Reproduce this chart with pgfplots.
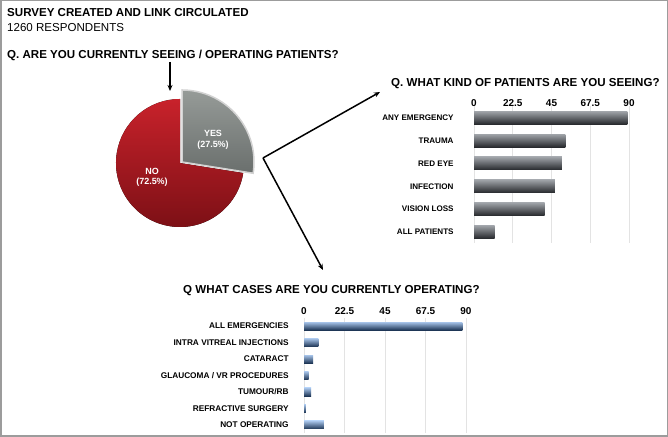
\documentclass[border=0pt]{standalone}
\usepackage{pgfplots}
\pgfplotsset{compat=1.18}
\usepackage{fontspec}
\setmainfont{Liberation Sans}
\usetikzlibrary{arrows.meta}

\definecolor{framegray}{HTML}{9C9C9C}
\definecolor{redtop}{HTML}{C8222B}
\definecolor{redbot}{HTML}{7A0F15}
\definecolor{graytop}{HTML}{969B98}
\definecolor{graybot}{HTML}{6A6F6D}
\definecolor{bartop}{HTML}{9FA3A8}
\definecolor{barmid}{HTML}{6A6E74}
\definecolor{barbot}{HTML}{26282C}
\definecolor{bluetop}{HTML}{A6C3E8}
\definecolor{bluemid}{HTML}{5E8ECA}
\definecolor{bluebot}{HTML}{1E3656}

% values
\def\yesval{27.5}
\def\noval{72.5}

\pgfplotsset{
  hbars/.style={
    scale only axis, xbar, bar shift=0pt, y dir=reverse,
    xmin=0, xmax=90,
    axis line style={draw=none}, tick style={draw=none},
    xtick={0,22.5,45,67.5,90},
    xticklabels={0,22.5,45,67.5,90},
    xticklabel pos=upper,
    xmajorgrids, major grid style={gray!22, line width=0.8bp},
    /pgf/number format/assume math mode=true,
    xticklabel style={font=\fontsize{10}{11}\selectfont\bfseries, inner sep=0pt},
    yticklabel style={font=\fontsize{8.1}{9}\selectfont\bfseries, anchor=east, inner sep=0pt},
    clip=false,
  },
  graybar/.style={draw=none, top color=bartop, middle color=barmid, bottom color=barbot},
  bluebar/.style={draw=none, top color=bluetop, middle color=bluemid, bottom color=bluebot},
}

\begin{document}
\begin{tikzpicture}[x=1bp,y=1bp]
\useasboundingbox (0,0) rectangle (668,437);
\fill[white] (0,0) rectangle (668,437);
\draw[framegray, line width=1.5bp] (0.75,0.75) rectangle (667.25,436.25);

% headings
\node[anchor=base west, inner sep=0pt, font=\fontsize{11.6}{13}\selectfont\bfseries] at (7,420.3) {SURVEY CREATED AND LINK CIRCULATED};
\node[anchor=base west, inner sep=0pt, font=\fontsize{11.6}{13}\selectfont] at (7,405.3) {1260 RESPONDENTS};
\node[anchor=base west, inner sep=0pt, font=\fontsize{11.6}{13}\selectfont\bfseries] at (7,378.7) {Q. ARE YOU CURRENTLY SEEING / OPERATING PATIENTS?};
\node[anchor=base west, inner sep=0pt, font=\fontsize{11.6}{13}\selectfont\bfseries] at (391,350.3) {Q. WHAT KIND OF PATIENTS ARE YOU SEEING?};
\node[anchor=base west, inner sep=0pt, font=\fontsize{11.6}{13}\selectfont\bfseries] at (183,143.7) {Q WHAT CASES ARE YOU CURRENTLY OPERATING?};

% arrows
\draw[line width=1.5bp, -{Stealth[length=6bp,width=5bp]}] (170,375) -- (170,346);
\draw[line width=1.5bp, -{Stealth[length=6bp,width=5bp]}] (263,279) -- (380,345);
\draw[line width=1.5bp, -{Stealth[length=6bp,width=5bp]}] (263,279) -- (323,167);

% pie
\begin{axis}[at={(180bp,274bp)}, anchor=center, scale only axis,
  width=180bp, height=180bp, xmin=-90, xmax=90, ymin=-90, ymax=90,
  hide axis, clip=false]
  \pgfmathsetmacro\yesend{90-3.6*\yesval}
  \fill[top color=redtop, bottom color=redbot]
    (axis cs:0,0) -- ++(\yesend:64bp) arc[start angle=\yesend, end angle=-270, radius=64bp] -- cycle;
  \fill[top color=graytop, bottom color=graybot, draw=gray!35, line width=1.5bp]
    (axis cs:2,1) -- ++(90:72bp) arc[start angle=90, end angle=\yesend, radius=72bp] -- cycle;
  \node[white, font=\fontsize{9}{10}\selectfont\bfseries] at (axis cs:33,30) {YES};
  \node[white, font=\fontsize{9}{10}\selectfont\bfseries] at (axis cs:33,18) {(\yesval\%)};
  \node[white, font=\fontsize{9}{10}\selectfont\bfseries] at (axis cs:-28,-8) {NO};
  \node[white, font=\fontsize{9}{10}\selectfont\bfseries] at (axis cs:-28,-19) {(\noval\%)};
\end{axis}

% what kind of patients
\begin{axis}[hbars, at={(474bp,193.6bp)}, anchor=south west,
  width=155bp, height=137bp, ymin=-0.5, ymax=5.5, bar width=13bp,
  ytick={0,...,5},
  yticklabels={ANY EMERGENCY,TRAUMA,RED EYE,INFECTION,VISION LOSS,ALL PATIENTS},
  yticklabel style={xshift=-16bp}]
  \addplot[graybar] coordinates {(89,0)};
  \addplot[graybar] coordinates {(53,1)};
  \addplot[graybar] coordinates {(51,2)};
  \addplot[graybar] coordinates {(47,3)};
  \addplot[graybar] coordinates {(41,4)};
  \addplot[graybar] coordinates {(12,5)};
\end{axis}

% what cases operating
\begin{axis}[hbars, at={(304bp,3.75bp)}, anchor=south west,
  width=162bp, height=115.5bp, ymin=-0.5, ymax=6.5, bar width=8bp,
  ytick={0,...,6},
  yticklabels={ALL EMERGENCIES,INTRA VITREAL INJECTIONS,CATARACT,GLAUCOMA / VR PROCEDURES,TUMOUR/RB,REFRACTIVE SURGERY,NOT OPERATING},
  yticklabel style={xshift=-11bp, font=\fontsize{8.3}{9}\selectfont\bfseries},
  xticklabel style={yshift=3bp}]
  \addplot[bluebar] coordinates {(88,0)};
  \addplot[bluebar] coordinates {(8,1)};
  \addplot[bluebar] coordinates {(5,2)};
  \addplot[bluebar] coordinates {(2.5,3)};
  \addplot[bluebar] coordinates {(4,4)};
  \addplot[bluebar] coordinates {(1,5)};
  \addplot[bluebar] coordinates {(11,6)};
\end{axis}
\end{tikzpicture}
\end{document}
